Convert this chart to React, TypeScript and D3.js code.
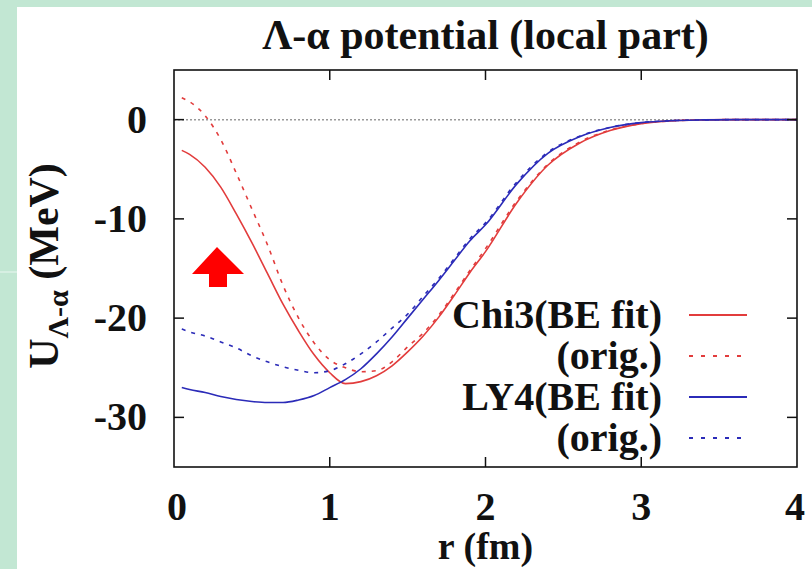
import React from "react";
import * as d3 from "d3";

const rGrid = [0.05, 0.1, 0.2, 0.3, 0.4, 0.5, 0.6, 0.7, 0.8, 0.9, 1.0, 1.1, 1.2, 1.3, 1.4, 1.5, 1.6, 1.7, 1.8, 1.9, 2.0, 2.2, 2.4, 2.6, 2.8, 3.0, 3.2, 3.4, 3.6, 3.8, 4.0];

const chi3Fit = [-3.1, -3.5, -4.8, -6.8, -9.5, -12.4, -15.5, -18.6, -21.3, -23.7, -25.5, -26.6, -26.4, -25.8, -24.8, -23.4, -21.8, -19.9, -17.7, -15.4, -13.3, -8.4, -4.6, -2.4, -1.1, -0.4, -0.12, -0.03, 0, 0, 0];
const chi3Orig = [2.2, 1.8, 0.4, -2.0, -5.4, -9.0, -12.6, -16.7, -20.0, -22.5, -24.2, -25.0, -25.4, -25.3, -24.4, -22.9, -21.5, -19.7, -17.5, -15.2, -13.0, -8.2, -4.5, -2.3, -1.05, -0.4, -0.12, -0.03, 0, 0, 0];
const ly4Fit = [-27.0, -27.2, -27.5, -27.9, -28.2, -28.4, -28.5, -28.5, -28.25, -27.8, -27.0, -26.2, -25.1, -23.6, -21.9, -20.0, -18.1, -16.2, -14.2, -12.2, -10.6, -6.5, -3.4, -1.75, -0.8, -0.3, -0.1, -0.03, 0, 0, 0];
const ly4Orig = [-21.1, -21.4, -21.8, -22.4, -23.0, -23.8, -24.4, -24.9, -25.25, -25.5, -25.3, -24.6, -23.6, -22.4, -21.0, -19.6, -17.8, -16.0, -14.0, -12.0, -10.4, -6.3, -3.3, -1.7, -0.78, -0.3, -0.1, -0.03, 0, 0, 0];

const xTicks = [0, 1, 2, 3, 4];
const yTicks = [0, -10, -20, -30];
const legendLabels = ["Chi3(BE fit)", "(orig.)", "LY4(BE fit)", "(orig.)"];

const RED = "#e23c3c";
const BLUE = "#2b2bb8";
const FONT = '"Liberation Serif", "Times New Roman", Times, "DejaVu Serif", serif';
const txt: React.CSSProperties = { fontFamily: FONT, fontWeight: "bold" };

export default function App() {
  const W = 812, H = 569;
  const L = 174, R = 797, T = 70, B = 467;
  const x = d3.scaleLinear().domain([0, 4]).range([L, R]);
  const y = d3.scaleLinear().domain([-35, 5]).range([B, T]);
  const line = d3
    .line<number>()
    .x((_, i) => x(rGrid[i]))
    .y((d) => y(d))
    .curve(d3.curveMonotoneX);

  const series = [
    { data: chi3Fit, color: RED, dash: undefined as string | undefined },
    { data: chi3Orig, color: RED, dash: "4,6" },
    { data: ly4Fit, color: BLUE, dash: undefined },
    { data: ly4Orig, color: BLUE, dash: "4,6" },
  ];

  const tickLen = 10;

  return (
    <svg width={W} height={H} style={{ position: "absolute", left: 0, top: 0 }}>
      <rect x={0} y={0} width={W} height={H} fill="#c2e7d3" />
      <rect x={17} y={7} width={W - 17} height={H - 7} fill="#ffffff" />
      <line x1={0} x2={17} y1={272} y2={272} stroke="#d6efe2" strokeWidth={2} />

      <text x={(L + R) / 2} y={49} textAnchor="middle" fontSize={42} style={txt} fill="#111">
        Λ-α potential (local part)
      </text>

      {/* zero line */}
      <line x1={L} x2={R} y1={y(0)} y2={y(0)} stroke="#999" strokeWidth={1.5} strokeDasharray="2,2" />

      <defs>
        <clipPath id="plotclip">
          <rect x={L} y={T} width={R - L} height={B - T} />
        </clipPath>
      </defs>
      <g clipPath="url(#plotclip)">
        {series.map((s, i) => (
          <path key={i} d={line(s.data) || ""} fill="none" stroke={s.color} strokeWidth={1.6} strokeDasharray={s.dash} />
        ))}
      </g>

      {/* frame */}
      <rect x={L} y={T} width={R - L} height={B - T} fill="none" stroke="#111" strokeWidth={1.6} />

      {/* x ticks */}
      {xTicks.slice(1, -1).map((t) => (
        <g key={"xt" + t}>
          <line x1={x(t)} x2={x(t)} y1={B} y2={B - tickLen} stroke="#111" strokeWidth={1.5} />
          <line x1={x(t)} x2={x(t)} y1={T} y2={T + tickLen} stroke="#111" strokeWidth={1.5} />
        </g>
      ))}
      {xTicks.map((t) => (
        <text key={"xl" + t} x={x(t) + (t === 0 ? 3 : t === 4 ? -2 : 0)} y={520} textAnchor="middle" fontSize={40} style={txt} fill="#111">
          {t}
        </text>
      ))}

      {/* y ticks */}
      {yTicks.map((t) => (
        <g key={"yt" + t}>
          <line x1={L} x2={L + tickLen} y1={y(t)} y2={y(t)} stroke="#111" strokeWidth={1.5} />
          <line x1={R} x2={R - tickLen} y1={y(t)} y2={y(t)} stroke="#111" strokeWidth={1.5} />
          <text x={147} y={y(t) + 13} textAnchor="end" fontSize={40} style={txt} fill="#111">
            {t}
          </text>
        </g>
      ))}

      <text x={(L + R) / 2} y={559} textAnchor="middle" fontSize={38} style={txt} fill="#111">
        r (fm)
      </text>

      <text transform={`translate(58, 266) rotate(-90)`} textAnchor="middle" fontSize={42} style={txt} fill="#111">
        U<tspan fontSize={30} dy={10}>Λ-α</tspan>
        <tspan dy={-10}> (MeV)</tspan>
      </text>

      {/* legend */}
      {legendLabels.map((lab, i) => {
        const ry = 315 + i * 41;
        const s = series[i];
        return (
          <g key={"lg" + i}>
            <text x={662} y={ry + 13} textAnchor="end" fontSize={40} style={txt} fill="#111">
              {lab}
            </text>
            <line x1={689} x2={747} y1={ry} y2={ry} stroke={s.color} strokeWidth={1.8} strokeDasharray={s.dash ? "4,8" : undefined} />
          </g>
        );
      })}

      {/* red arrow */}
      <polygon
        points={`217,247 244,274 227,274 227,287 209,287 209,274 192,274`}
        fill="#ff0000"
      />
    </svg>
  );
}
